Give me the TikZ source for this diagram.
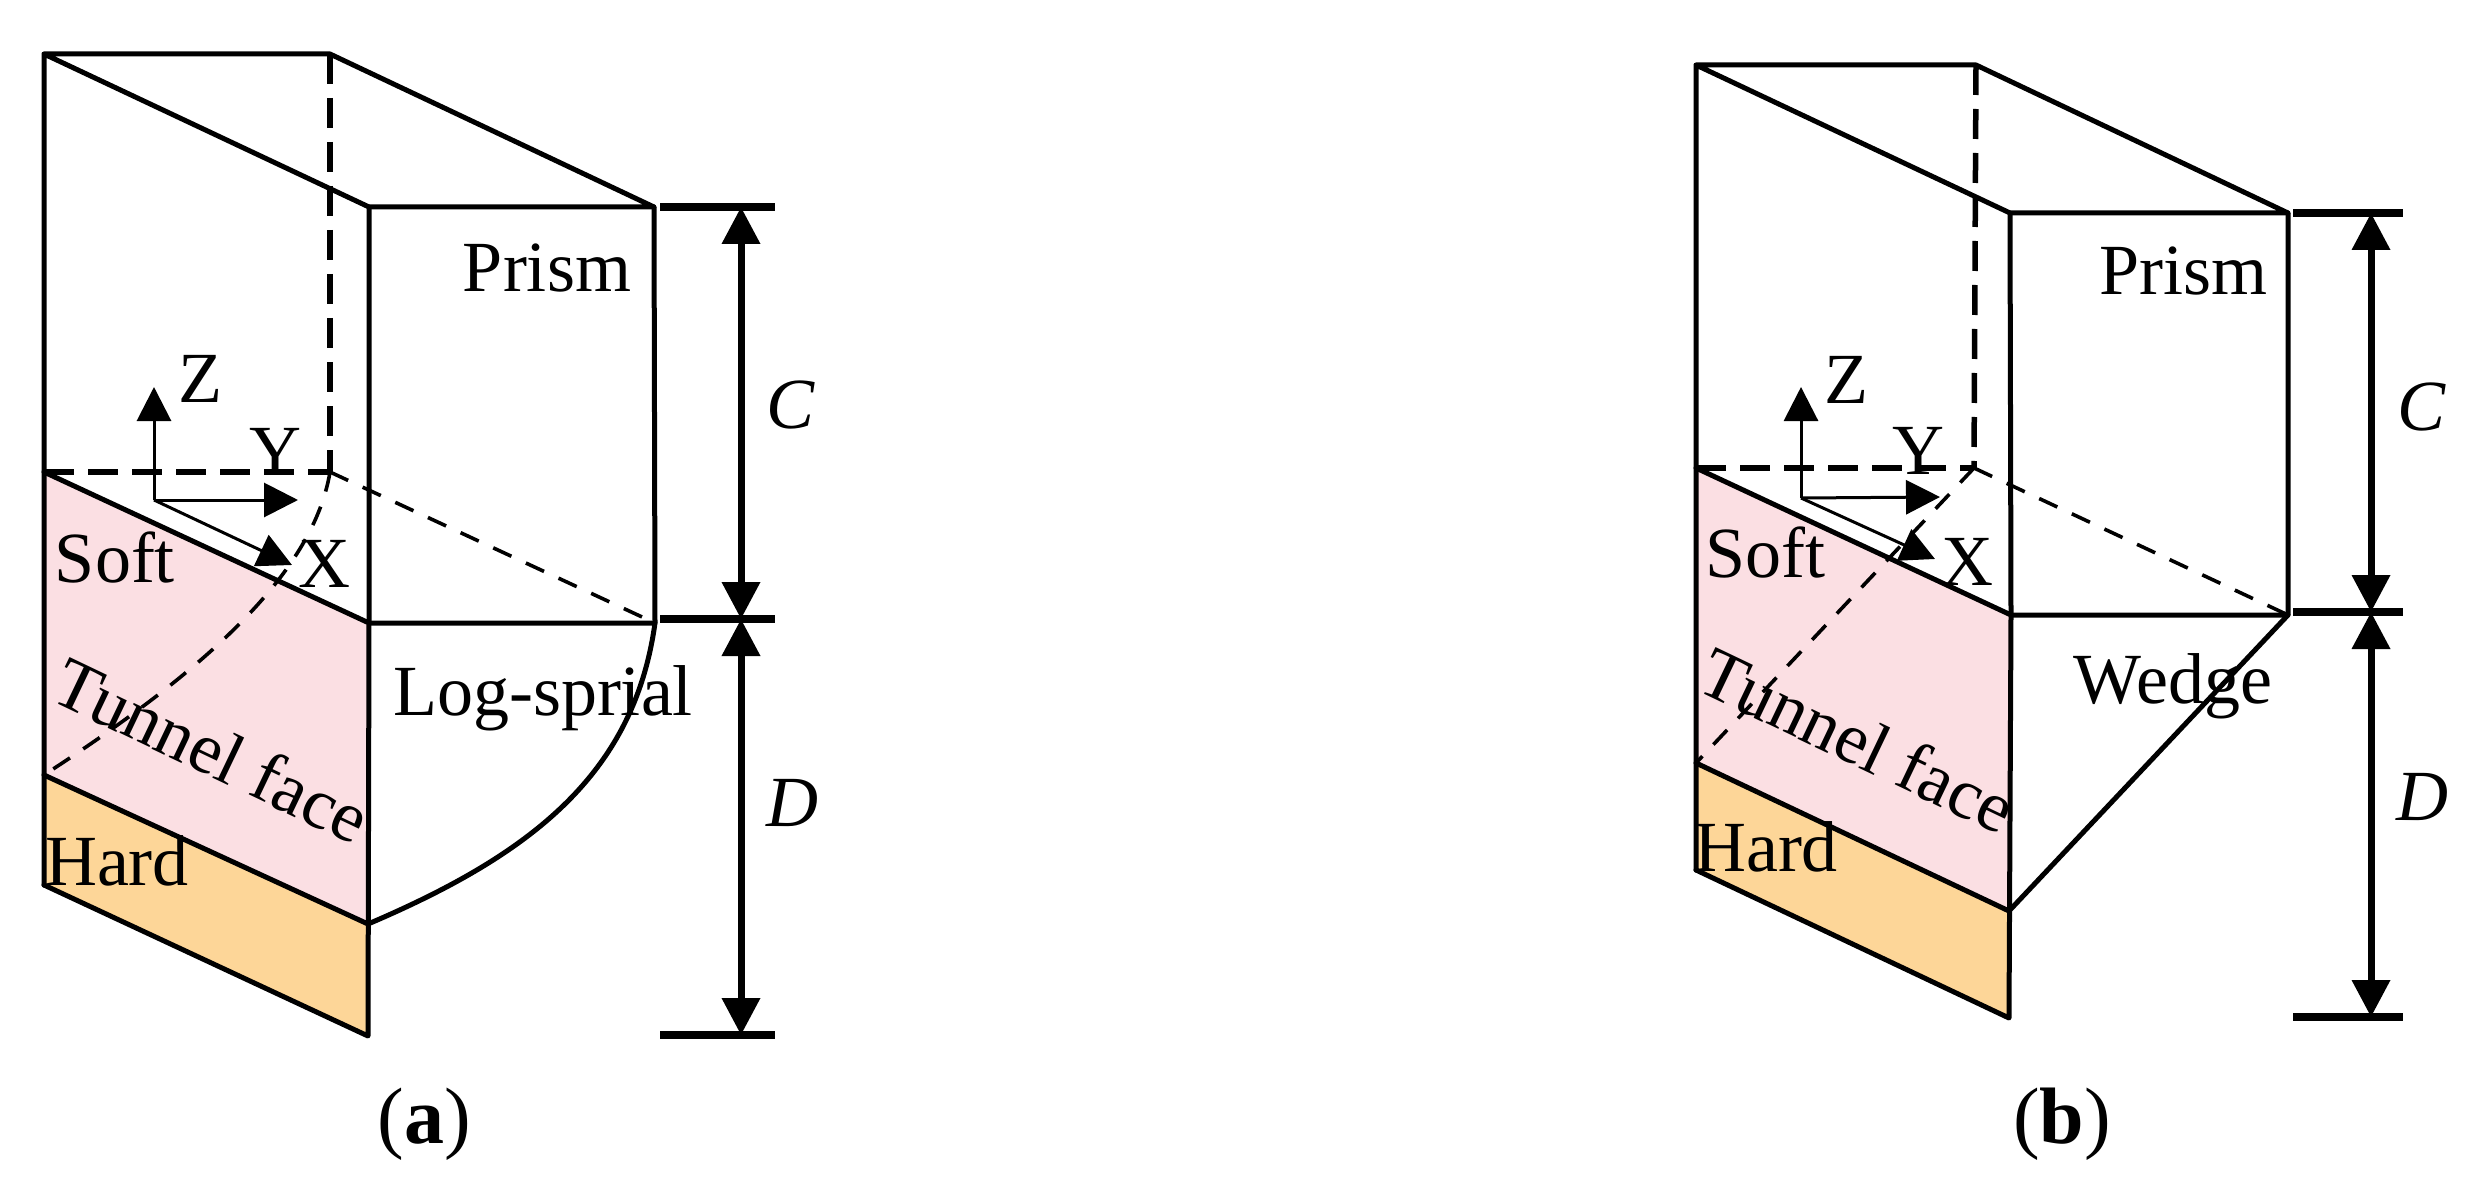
\documentclass[tikz,border=0pt]{standalone}
\usepackage{fontspec}
\setmainfont{Liberation Serif}
\usetikzlibrary{arrows.meta}
\definecolor{softpink}{HTML}{FBDFE3}
\definecolor{hardorange}{HTML}{FDD698}
\tikzset{
  solidline/.style={black, line width=5pt, line cap=round, line join=round},
  bigdash/.style={black, line width=5.5pt, dash pattern=on 30pt off 14pt},
  thindash/.style={black, line width=3.6pt, dash pattern=on 20pt off 16pt},
  axisarrow/.style={black, line width=3pt, arrows={-Triangle[length=34pt,width=34pt]}},
  dimarrow/.style={black, line width=7pt, arrows={Triangle[length=37pt,width=37pt]-Triangle[length=37pt,width=37pt]}},
  dimtick/.style={black, line width=8pt},
  lbl/.style={font=\fontsize{72}{72}\selectfont, inner sep=0pt, anchor=base},
  caplbl/.style={font=\fontsize{80}{80}\selectfont, inner sep=0pt, anchor=base},
}
\begin{document}
\begin{tikzpicture}[x=1pt,y=-1pt]
\useasboundingbox (0,0) rectangle (2474,1190);
% Punkte (a)
\coordinate (TL) at (44,54);
\coordinate (TB) at (330,54);
\coordinate (TF) at (369,207);
\coordinate (TR) at (654,207);
\coordinate (ML) at (44,472);
\coordinate (MB) at (330,472);
\coordinate (MF) at (369,623);
\coordinate (MR) at (655,623);
\coordinate (PL) at (44,775);
\coordinate (PF) at (368,924);
\coordinate (HL) at (44,885);
\coordinate (HF) at (368,1036);
\coordinate (O) at (154,500);
\coordinate (Zt) at (154,387);
\coordinate (Yt) at (298,500);
\coordinate (Xt) at (292,565);
\coordinate (D1) at (660,207);
\coordinate (D2) at (775,207);
\coordinate (D3) at (660,619);
\coordinate (D4) at (775,619);
\coordinate (D5) at (660,1035);
\coordinate (D6) at (775,1035);
\coordinate (A1) at (741,207);
\coordinate (A2) at (741,619);
\coordinate (A3) at (741,1035);
% Flaechen
\fill[softpink] (ML) -- (MF) -- (PF) -- (PL) -- cycle;
\fill[hardorange] (PL) -- (PF) -- (HF) -- (HL) -- cycle;
% Prisma
\draw[solidline] (HL) -- (TL) -- (TB) -- (TR) -- (TF) -- (TL);
\draw[solidline] (TF) -- (MF) -- (HF) -- (HL);
\draw[solidline] (TR) -- (MR) -- (MF) -- (ML);
\draw[solidline] (PL) -- (PF);
\draw[bigdash] (TB) -- (MB);
\draw[bigdash] (ML) -- (MB);
\draw[thindash] (MB) -- (MR);
% Log-Spirale
\draw[solidline] (MR) .. controls (634,775) and (530,855) .. (PF);
\draw[thindash] (MB) .. controls (312,580) and (190,680) .. (PL);
% Achsen
\draw[axisarrow] (O) -- (Zt);
\draw[axisarrow] (O) -- (Yt);
\draw[axisarrow] (O) -- (Xt);
% Masse
\draw[dimtick] (D1) -- (D2);
\draw[dimtick] (D3) -- (D4);
\draw[dimtick] (D5) -- (D6);
\draw[dimarrow] (A1) -- (A2);
\draw[dimarrow] (A2) -- (A3);
% Texte
\node[lbl] (za) at (200,402) {Z};
\node[lbl] (ya) at (275,475) {Y};
\node[lbl] (xa) at (324,587) {X};
\node[lbl] (softa) at (115,582) {Soft};
\node[lbl] (harda) at (117,885) {Hard};
\node[lbl, anchor=center, rotate=-25.5] (facea) at (212,750) {Tunnel face};
\node[lbl] (prisma) at (547,292) {Prism};
\node[lbl] (loga) at (543,715) {Log-sprial};
\node[lbl] (ca) at (791,428) {\textit{C}};
\node[lbl] (da) at (792,826) {\textit{D}};
\node[caplbl] (capa) at (424,1143) {(\textbf{a})};
% Punkte (b)
\coordinate (bTL) at (1696,65);
\coordinate (bTB) at (1976,65);
\coordinate (bTF) at (2010,213);
\coordinate (bTR) at (2288,213);
\coordinate (bML) at (1696,468);
\coordinate (bMB) at (1974,468);
\coordinate (bMF) at (2011,615);
\coordinate (bMR) at (2288,615);
\coordinate (bPL) at (1696,763);
\coordinate (bPF) at (2009,911);
\coordinate (bHL) at (1696,870);
\coordinate (bHF) at (2009,1018);
\coordinate (bO) at (1801,498);
\coordinate (bZt) at (1801,387);
\coordinate (bYt) at (1940,497);
\coordinate (bXt) at (1935,559);
\coordinate (bD1) at (2293,213);
\coordinate (bD2) at (2403,213);
\coordinate (bD3) at (2293,612);
\coordinate (bD4) at (2403,612);
\coordinate (bD5) at (2293,1017);
\coordinate (bD6) at (2403,1017);
\coordinate (bA1) at (2371,213);
\coordinate (bA2) at (2371,612);
\coordinate (bA3) at (2371,1017);
% Flaechen
\fill[softpink] (bML) -- (bMF) -- (bPF) -- (bPL) -- cycle;
\fill[hardorange] (bPL) -- (bPF) -- (bHF) -- (bHL) -- cycle;
% Prisma
\draw[solidline] (bHL) -- (bTL) -- (bTB) -- (bTR) -- (bTF) -- (bTL);
\draw[solidline] (bTF) -- (bMF) -- (bHF) -- (bHL);
\draw[solidline] (bTR) -- (bMR) -- (bMF) -- (bML);
\draw[solidline] (bPL) -- (bPF);
\draw[bigdash] (bTB) -- (bMB);
\draw[bigdash] (bML) -- (bMB);
\draw[thindash] (bMB) -- (bMR);
% Keil
\draw[solidline] (bMR) -- (bPF);
\draw[thindash] (bMB) -- (bPL);
% Achsen
\draw[axisarrow] (bO) -- (bZt);
\draw[axisarrow] (bO) -- (bYt);
\draw[axisarrow] (bO) -- (bXt);
% Masse
\draw[dimtick] (bD1) -- (bD2);
\draw[dimtick] (bD3) -- (bD4);
\draw[dimtick] (bD5) -- (bD6);
\draw[dimarrow] (bA1) -- (bA2);
\draw[dimarrow] (bA2) -- (bA3);
% Texte
\node[lbl] (zb) at (1846,403) {Z};
\node[lbl] (yb) at (1918,474) {Y};
\node[lbl] (xb) at (1967,585) {X};
\node[lbl] (softb) at (1765,577) {Soft};
\node[lbl] (hardb) at (1766,871) {Hard};
\node[lbl, anchor=center, rotate=-25.5] (faceb) at (1858,740) {Tunnel face};
\node[lbl] (prismb) at (2183,295) {Prism};
\node[lbl] (wedgeb) at (2173,703) {Wedge};
\node[lbl] (cb) at (2422,430) {\textit{C}};
\node[lbl] (db) at (2422,820) {\textit{D}};
\node[caplbl] (capb) at (2062,1143) {(\textbf{b})};
\end{tikzpicture}
\end{document}
